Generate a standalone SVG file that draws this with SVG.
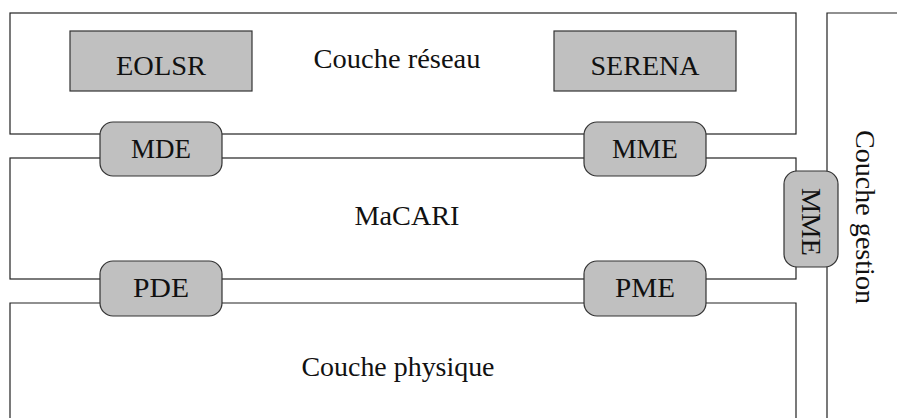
<svg xmlns="http://www.w3.org/2000/svg" width="897" height="418" viewBox="0 0 897 418">
<style>
.frame{fill:none;stroke:#222;stroke-width:1.2}
.box{fill:#c0c0c0;stroke:#333;stroke-width:1.2}
.t{font-family:"Liberation Serif","DejaVu Serif",serif;font-size:28px;fill:#111;text-anchor:middle}
</style>
<rect width="897" height="418" fill="#fff"/>
<g id="layers">
  <g id="couche-reseau"><rect class="frame" x="10" y="13" width="786" height="121"/><text class="t" x="397" y="68" textLength="167" lengthAdjust="spacingAndGlyphs">Couche réseau</text></g>
  <g id="macari"><rect class="frame" x="10" y="158" width="786" height="121"/><text class="t" x="407" y="225" textLength="105" lengthAdjust="spacingAndGlyphs">MaCARI</text></g>
  <g id="couche-physique"><path class="frame" d="M10,420 V303 H796 V420"/><text class="t" x="398" y="376" textLength="193" lengthAdjust="spacingAndGlyphs">Couche physique</text></g>
  <g id="couche-gestion"><path class="frame" d="M827,420 V13 H899"/><text class="t" transform="translate(856,217) rotate(90)" x="0" y="0" textLength="174" lengthAdjust="spacingAndGlyphs">Couche gestion</text></g>
</g>
<g id="connectors"></g>
<g id="EOLSR"><rect class="box" x="70" y="31" width="182" height="60"/><text class="t" x="161" y="75" textLength="90" lengthAdjust="spacingAndGlyphs">EOLSR</text></g>
<g id="SERENA"><rect class="box" x="554" y="31" width="182" height="60"/><text class="t" x="645" y="75" textLength="109" lengthAdjust="spacingAndGlyphs">SERENA</text></g>
<g id="MDE"><rect class="box" x="100" y="122" width="122" height="54" rx="13"/><text class="t" x="161" y="158" textLength="60" lengthAdjust="spacingAndGlyphs">MDE</text></g>
<g id="MME"><rect class="box" x="584" y="122" width="122" height="54" rx="13"/><text class="t" x="645" y="158" textLength="66" lengthAdjust="spacingAndGlyphs">MME</text></g>
<g id="PDE"><rect class="box" x="100" y="261" width="122" height="55" rx="13"/><text class="t" x="161" y="297" textLength="56" lengthAdjust="spacingAndGlyphs">PDE</text></g>
<g id="PME"><rect class="box" x="584" y="261" width="122" height="55" rx="13"/><text class="t" x="645" y="297" textLength="60" lengthAdjust="spacingAndGlyphs">PME</text></g>
<g id="MME-gestion"><rect class="box" x="784" y="171" width="54" height="96" rx="13"/><text class="t" transform="translate(802,222) rotate(90)" x="0" y="0" textLength="68" lengthAdjust="spacingAndGlyphs">MME</text></g>
</svg>
